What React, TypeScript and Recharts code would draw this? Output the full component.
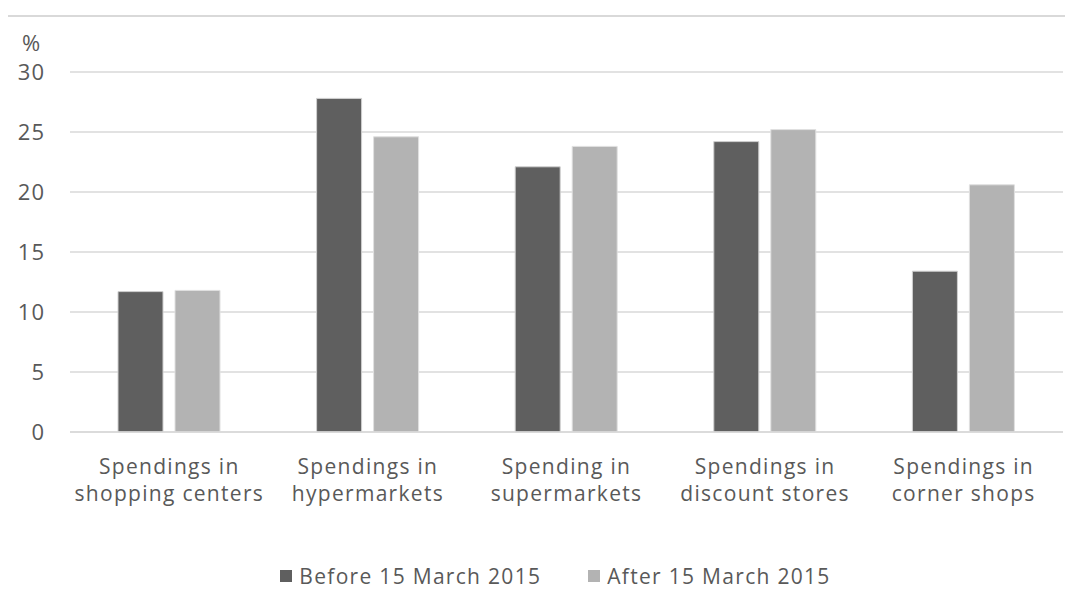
import React from "react";
import { BarChart, Bar, XAxis, YAxis, CartesianGrid, Legend } from "recharts";

const categories = [
  "Spendings in\nshopping centers",
  "Spendings in\nhypermarkets",
  "Spending in\nsupermarkets",
  "Spendings in\ndiscount stores",
  "Spendings in\ncorner shops",
];
const before2015 = [11.7, 27.8, 22.1, 24.2, 13.4];
const after2015 = [11.8, 24.6, 23.8, 25.2, 20.6];
const yTicks = [0, 5, 10, 15, 20, 25, 30];

const data = categories.map((name, i) => ({
  name,
  before: before2015[i],
  after: after2015[i],
}));

const FONT = "'Open Sans', sans-serif";
const TEXT = "#595959";

function CategoryTick(props: any) {
  const { x, y, payload } = props;
  const lines = String(payload.value).split("\n");
  return (
    <text x={x} y={y} textAnchor="middle" fill={TEXT} fontSize={21} fontFamily={FONT} letterSpacing={1.3}>
      {lines.map((l, i) => (
        <tspan key={i} x={x} dy={i === 0 ? 34 : 27}>
          {l}
        </tspan>
      ))}
    </text>
  );
}

function LegendBox() {
  const items = [
    { label: "Before 15 March 2015", color: "#5f5f5f" },
    { label: "After 15 March 2015", color: "#b3b3b3" },
  ];
  return (
    <div
      style={{
        display: "flex",
        justifyContent: "center",
        gap: 47,
        paddingTop: 31,
        paddingLeft: 48,
        fontFamily: FONT,
        fontSize: 21,
        letterSpacing: 1.3,
        color: TEXT,
      }}
    >
      {items.map((it) => (
        <div key={it.label} style={{ display: "flex", alignItems: "center" }}>
          <span style={{ width: 12, height: 12, background: it.color, display: "inline-block", marginRight: 7 }} />
          {it.label}
        </div>
      ))}
    </div>
  );
}

export default function App() {
  return (
    <div style={{ position: "fixed", left: 0, top: 0, width: 1065, height: 591, background: "#fff" }}>
      <div style={{ position: "absolute", left: 8, right: 0, top: 15, height: 2, background: "#d9d9d9" }} />
      <div style={{ position: "absolute", left: 22, top: 27, fontFamily: FONT, fontSize: 22, color: TEXT }}>%</div>
      <BarChart
        width={1065}
        height={591}
        data={data}
        margin={{ top: 72, right: 2, bottom: 0, left: 0 }}
        barCategoryGap={48}
        barGap={12}
      >
        <CartesianGrid vertical={false} stroke="#d9d9d9" strokeWidth={1.5} />
        <YAxis
          width={70}
          domain={[0, 30]}
          ticks={yTicks}
          axisLine={false}
          tickLine={false}
          tickMargin={19}
          tick={{ fill: TEXT, fontSize: 22, fontFamily: FONT, letterSpacing: 1 }}
        />
        <XAxis
          dataKey="name"
          height={99}
          axisLine={{ stroke: "#d9d9d9", strokeWidth: 1.5 }}
          tickLine={false}
          interval={0}
          tick={<CategoryTick />}
        />
        <Legend verticalAlign="bottom" height={60} content={() => <LegendBox />} />
        <Bar dataKey="before" fill="#5f5f5f" stroke="#d0d0d0" strokeWidth={1} isAnimationActive={false} />
        <Bar dataKey="after" fill="#b3b3b3" stroke="#e0e0e0" strokeWidth={1} isAnimationActive={false} />
      </BarChart>
    </div>
  );
}
